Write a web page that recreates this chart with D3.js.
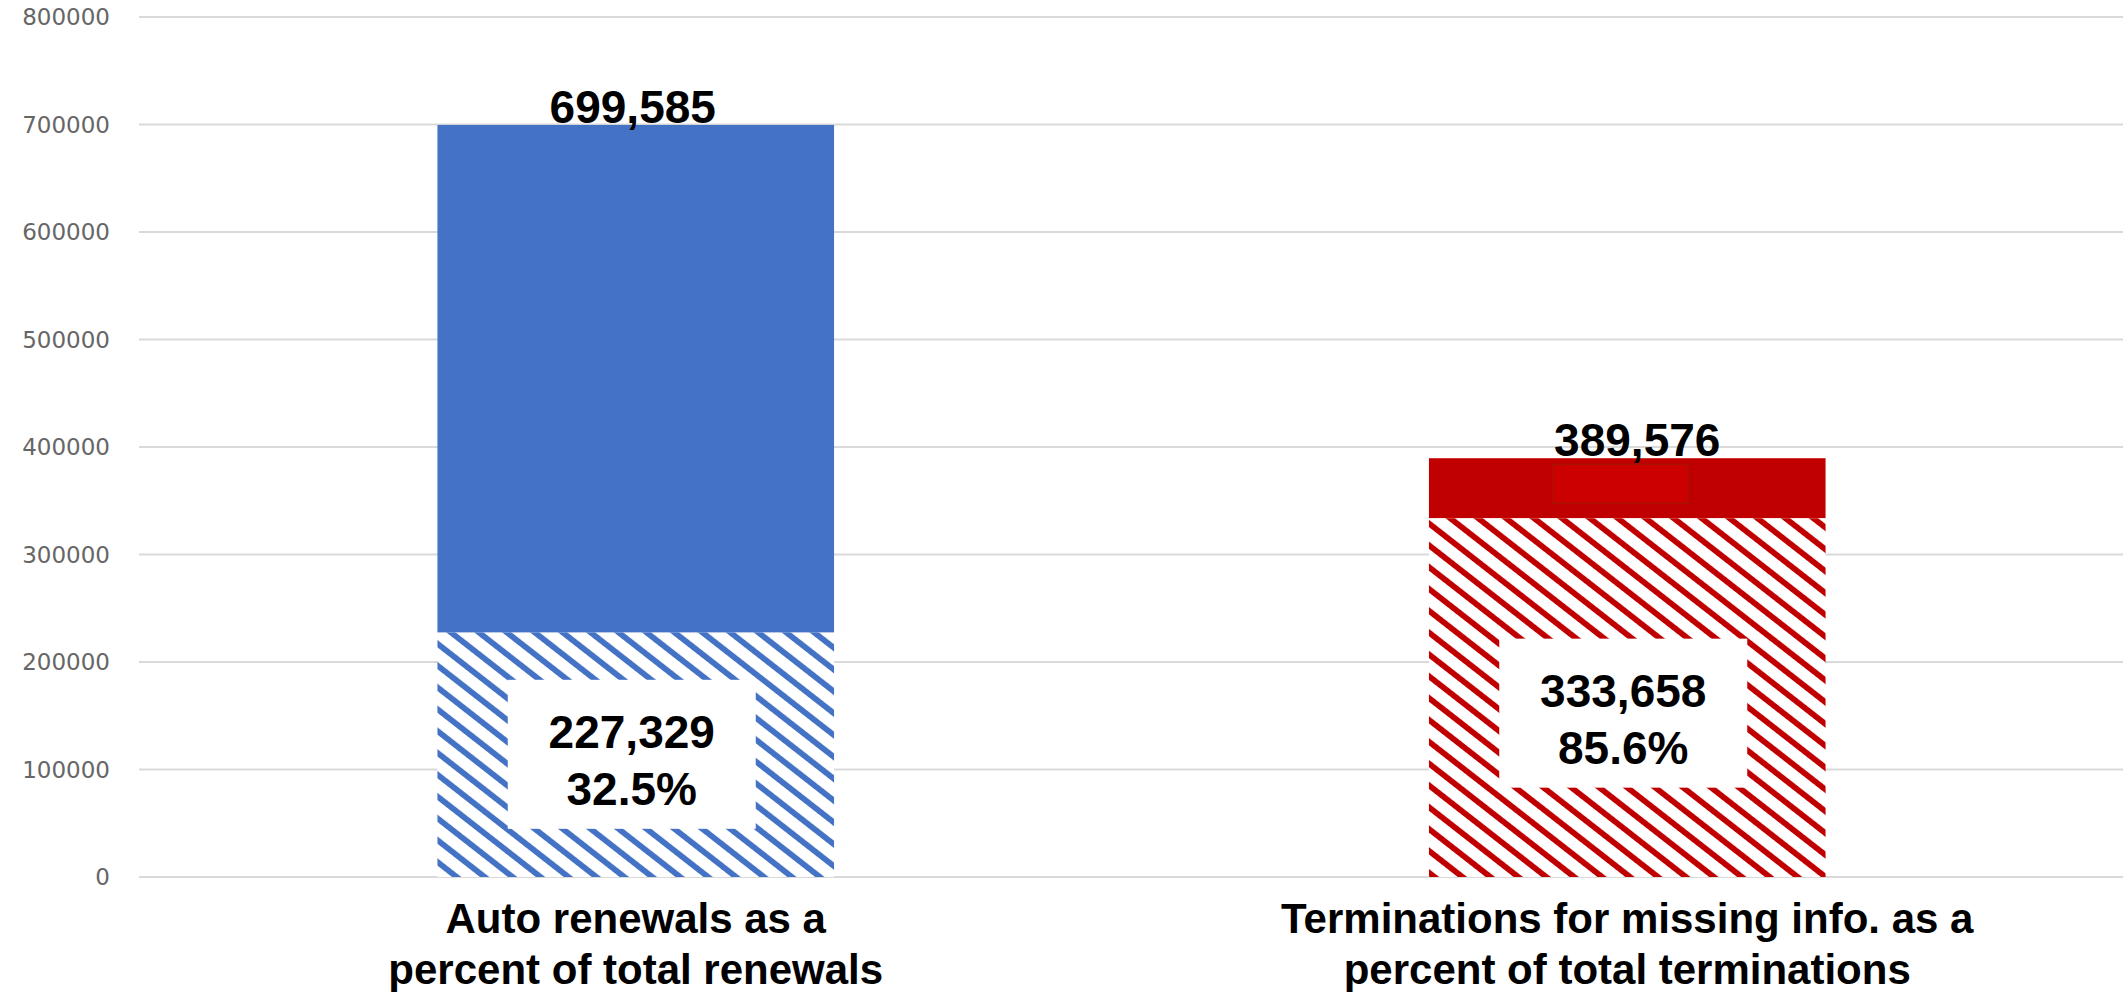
<!DOCTYPE html>
<html>
<head>
<meta charset="utf-8">
<script src="https://cdn.jsdelivr.net/npm/d3@7"></script>
<style>
  body { margin: 0; background: #fff; }
  svg { display: block; }
</style>
</head>
<body>
<svg id="chart"></svg>
<script>
"use strict";

const categories = [
  ["Auto renewals as a", "percent of total renewals"],
  ["Terminations for missing info. as a", "percent of total terminations"]
];
const totals = [699585, 389576];
const parts = [227329, 333658];
const colors = ["#4472c4", "#c00000"];
const yTicks = [0, 100000, 200000, 300000, 400000, 500000, 600000, 700000, 800000];

const W = 2126, H = 992;
const fmtComma = d3.format(",");
const fmtPct = d3.format(".1%");

const chart = d3.select('#chart')
  .attr('width', W)
  .attr('height', H);

const y = d3.scaleLinear()
  .domain([0, 800000])
  .range([877, 17]);

const x = d3.scaleBand()
  .domain(d3.range(categories.length))
  .range([140, 2123])
  .paddingInner(0.6)
  .paddingOuter(0.3);

// hatch patterns (downward diagonal)
const defs = chart.append('defs');
colors.forEach((c, i) => {
  const p = defs.append('pattern')
    .attr('id', 'hatch' + i)
    .attr('patternUnits', 'userSpaceOnUse')
    .attr('width', 17.2)
    .attr('height', 20)
    .attr('patternTransform', 'rotate(-52)');
  p.append('rect').attr('width', 17.2).attr('height', 20).attr('fill', '#fff');
  p.append('rect').attr('width', 5.8).attr('height', 20).attr('fill', c);
});

// gridlines + y labels
chart.append('g').selectAll('line').data(yTicks).join('line')
  .attr('x1', 139).attr('x2', 2123)
  .attr('y1', d => y(d)).attr('y2', d => y(d))
  .attr('stroke', '#d9d9d9')
  .attr('stroke-width', 2);

chart.append('g').selectAll('text').data(yTicks).join('text')
  .attr('x', 110)
  .attr('y', d => y(d))
  .attr('text-anchor', 'end')
  .attr('dominant-baseline', 'central')
  .attr('font-family', 'DejaVu Sans, sans-serif')
  .attr('font-size', 23)
  .attr('fill', '#666')
  .text(d => d);

// bars
const bars = chart.append('g').selectAll('g').data(totals).join('g');

bars.append('rect')
  .attr('x', (d, i) => x(i))
  .attr('width', x.bandwidth())
  .attr('y', d => y(d))
  .attr('height', (d, i) => y(parts[i]) - y(d))
  .attr('fill', (d, i) => colors[i]);

bars.append('rect')
  .attr('x', (d, i) => x(i))
  .attr('width', x.bandwidth())
  .attr('y', (d, i) => y(parts[i]))
  .attr('height', (d, i) => y(0) - y(parts[i]))
  .attr('fill', (d, i) => 'url(#hatch' + i + ')');

// leftover box artifact inside red bar
chart.append('rect')
  .attr('x', x(1) + x.bandwidth() / 2 - 75)
  .attr('y', y(totals[1]) + 6)
  .attr('width', 136)
  .attr('height', 39)
  .attr('fill', '#cc0000')
  .attr('stroke', '#9a1a00')
  .attr('stroke-width', 1);

// total labels
bars.append('text')
  .attr('x', (d, i) => x(i) + x.bandwidth() / 2 + (i === 1 ? 10 : -3))
  .attr('y', d => y(d) - 2)
  .attr('text-anchor', 'middle')
  .attr('font-family', 'Liberation Sans, Arial, sans-serif')
  .attr('font-weight', 'bold')
  .attr('font-size', 46)
  .attr('fill', '#000')
  .text(d => fmtComma(d));

// inner label boxes
const boxOffset = [0, 16];
const boxes = chart.append('g').selectAll('g').data(parts).join('g')
  .attr('transform', (d, i) => {
    const cx = x(i) + x.bandwidth() / 2 - 4;
    const cy = (y(d) + y(0)) / 2 + boxOffset[i];
    return `translate(${cx},${cy})`;
  });

boxes.append('rect')
  .attr('x', -124).attr('y', -75)
  .attr('width', 248).attr('height', 149)
  .attr('fill', '#fff');

boxes.append('text')
  .attr('text-anchor', 'middle')
  .attr('font-family', 'Liberation Sans, Arial, sans-serif')
  .attr('font-weight', 'bold')
  .attr('font-size', 46)
  .attr('fill', '#000')
  .selectAll('tspan')
  .data((d, i) => [fmtComma(d), fmtPct(d / totals[i])])
  .join('tspan')
  .attr('x', 0)
  .attr('y', (d, j) => j === 0 ? -7 : 50)
  .text(d => d);

// category labels
chart.append('g').selectAll('text').data(categories).join('text')
  .attr('text-anchor', 'middle')
  .attr('font-family', 'Liberation Sans, Arial, sans-serif')
  .attr('font-weight', 'bold')
  .attr('font-size', 42)
  .attr('fill', '#000')
  .selectAll('tspan')
  .data((d, i) => d.map(t => ({ t, i })))
  .join('tspan')
  .attr('x', d => x(d.i) + x.bandwidth() / 2)
  .attr('y', (d, j) => j === 0 ? 933 : 984)
  .text(d => d.t);
</script>
</body>
</html>
